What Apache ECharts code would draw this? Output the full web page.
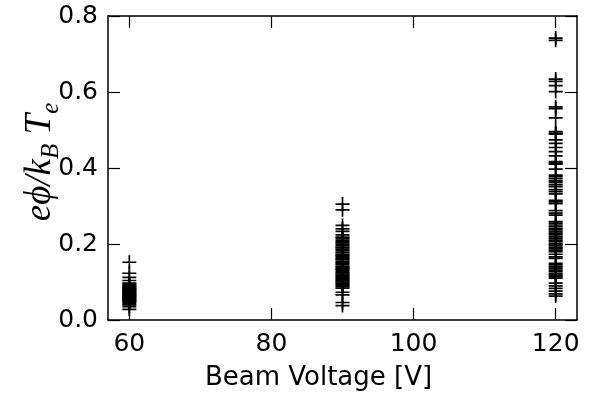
<!DOCTYPE html>
<html>
<head>
<meta charset="utf-8">
<script src="https://cdn.jsdelivr.net/npm/echarts@6/dist/echarts.min.js"></script>
<style>
  html, body { margin: 0; padding: 0; background: #fff; }
  #main { width: 599px; height: 396px; }
</style>
</head>
<body>
<div id="main"></div>
<script>
// beam voltages and the measured e*phi/kB*Te values at each one
var voltages = [60, 90, 120];
var v60 = [0.152, 0.123, 0.112, 0.104, 0.097, 0.095, 0.092, 0.090, 0.088, 0.086, 0.083, 0.082,
  0.080, 0.078, 0.076, 0.075, 0.072, 0.071, 0.069, 0.067, 0.065, 0.064, 0.062, 0.060,
  0.059, 0.057, 0.055, 0.053, 0.051, 0.049, 0.047, 0.044, 0.040, 0.035, 0.028];
var v90 = [0.305, 0.290, 0.249, 0.240, 0.233, 0.224, 0.218, 0.215, 0.210, 0.206, 0.203, 0.199,
  0.196, 0.192, 0.190, 0.186, 0.183, 0.179, 0.177, 0.173, 0.170, 0.168, 0.164, 0.161,
  0.158, 0.154, 0.151, 0.148, 0.146, 0.142, 0.139, 0.136, 0.133, 0.131, 0.127, 0.124,
  0.121, 0.118, 0.115, 0.112, 0.109, 0.106, 0.103, 0.100, 0.097, 0.094, 0.091, 0.088,
  0.084, 0.073, 0.066, 0.046, 0.038];
var v120 = [0.742, 0.736, 0.634, 0.628, 0.617, 0.601, 0.561, 0.556, 0.532, 0.496, 0.492, 0.489,
  0.474, 0.465, 0.454, 0.443, 0.432, 0.417, 0.413, 0.410, 0.397, 0.381, 0.377, 0.372,
  0.366, 0.362, 0.356, 0.351, 0.343, 0.338, 0.332, 0.315, 0.311, 0.306, 0.288, 0.281,
  0.276, 0.259, 0.255, 0.250, 0.246, 0.241, 0.237, 0.232, 0.228, 0.224, 0.219, 0.215,
  0.210, 0.206, 0.201, 0.197, 0.192, 0.188, 0.184, 0.180, 0.173, 0.166, 0.162, 0.149,
  0.145, 0.140, 0.136, 0.131, 0.127, 0.122, 0.118, 0.114, 0.110, 0.097, 0.090, 0.083,
  0.076, 0.069, 0.063];
var xTicks = [60, 80, 100, 120];

var chart = echarts.init(document.getElementById('main'));

// build [x, y] pairs
var points = [];
[v60, v90, v120].forEach(function (arr, i) {
  arr.forEach(function (v) { points.push([voltages[i], v]); });
});

// '+' marker drawn as two filled bars
var plus = 'path://M0,6.15H14V7.85H0Z M6.15,0H7.85V14H6.15Z';
var font = 'DejaVu Sans';

var tickStyle = { show: true, inside: true, length: 12, lineStyle: { color: '#000', width: 1.2 } };
var lineStyle = { show: true, onZero: false, lineStyle: { color: '#000', width: 1.5 } };

var option = {
  animation: false,
  grid: { left: 108, right: 22, top: 16, bottom: 74 },
  xAxis: [
    {
      type: 'value', min: 57, max: 123, position: 'bottom',
      axisLine: lineStyle,
      axisTick: Object.assign({ customValues: xTicks }, tickStyle),
      axisLabel: { customValues: xTicks, color: '#000', fontFamily: font, fontSize: 25, margin: 12 },
      splitLine: { show: false },
      name: 'Beam Voltage [V]', nameLocation: 'middle', nameGap: 45,
      nameTextStyle: { color: '#000', fontFamily: font, fontSize: 26, padding: [0, 48, 0, 0] }
    },
    {
      type: 'value', min: 57, max: 123, position: 'top',
      axisLine: lineStyle,
      axisTick: Object.assign({ customValues: xTicks }, tickStyle),
      axisLabel: { show: false },
      splitLine: { show: false }
    }
  ],
  yAxis: [
    {
      type: 'value', min: 0, max: 0.8, interval: 0.2, position: 'left',
      axisLine: lineStyle,
      axisTick: tickStyle,
      axisLabel: {
        color: '#000', fontFamily: font, fontSize: 25, margin: 10,
        formatter: function (v) { return v.toFixed(1); }
      },
      splitLine: { show: false }
    },
    {
      type: 'value', min: 0, max: 0.8, interval: 0.2, position: 'right',
      axisLine: lineStyle,
      axisTick: tickStyle,
      axisLabel: { show: false },
      splitLine: { show: false }
    }
  ],
  graphic: [{
    type: 'text',
    x: 40, y: 162,
    rotation: Math.PI / 2,
    style: {
      text: '{m|eϕ/k}{s|B}{m| T}{s|e}',
      align: 'center', verticalAlign: 'middle',
      rich: {
        m: { fontFamily: 'Liberation Serif', fontStyle: 'italic', fontSize: 37, lineHeight: 48, verticalAlign: 'middle', fill: '#000' },
        s: { fontFamily: 'Liberation Serif', fontStyle: 'italic', fontSize: 25, lineHeight: 23, verticalAlign: 'bottom', fill: '#000' }
      }
    }
  }],
  series: [{
    type: 'scatter',
    data: points,
    symbol: plus,
    symbolSize: 14,
    itemStyle: { color: '#000', opacity: 1 },
    emphasis: { disabled: true }
  }]
};
chart.setOption(option);
</script>
</body>
</html>
